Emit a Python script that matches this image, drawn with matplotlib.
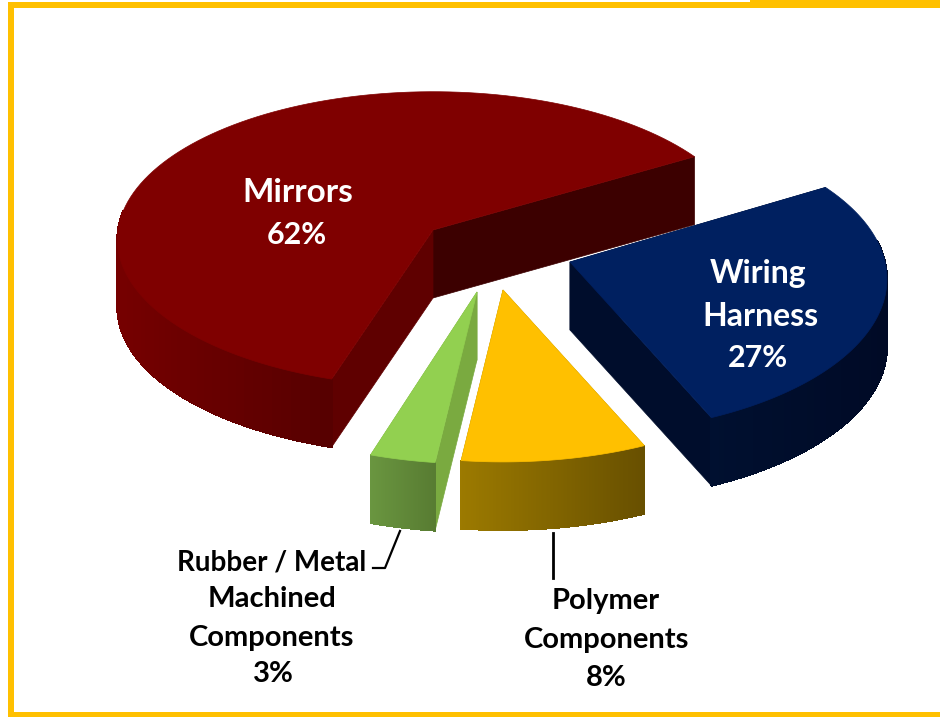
import numpy as np
import matplotlib
matplotlib.use("Agg")
import matplotlib.pyplot as plt
from matplotlib.colors import to_rgb
from matplotlib.patches import Rectangle

plt.rcParams['font.family'] = ['Lato', 'DejaVu Sans']

# slices in pie order, counter clockwise, shares as measured off the slice angles
names = ["Mirrors", "Rubber / Metal Machined Components", "Polymer Components", "Wiring Harness"]
shares = [61.5, 3.0, 8.5, 27]
top_colors = ["#7f0000", "#92d050", "#ffc000", "#002060"]
side_left = ["#760000", "#6a9640", "#9c7a00", "#001030"]
side_right = ["#560000", "#587c32", "#685000", "#000a26"]
cut_start = ["#3c0000", "#7aaa40", "#a08000", "#000d2c"]
cut_end = ["#5f0000", "#7aaa40", "#a08000", "#000d2c"]

# exploded slice tips and projection, pixels
apex_x = [433, 477, 503, 570]
apex_y = [230, 292, 290, 262]
b_axis = [147, 153, 153, 153]
persp = [0.063, 0.11, 0.11, 0.11]
a = 315
depth = 68
start = 31


def rim(apex, t, b, k):
    t = np.radians(t)
    w = 1 + k * np.sin(t)
    return apex[0] + a * np.cos(t) / w, apex[1] - b * np.sin(t) / w


fig = plt.figure(figsize=(9.4, 7.19), dpi=100)
ax = fig.add_axes([0, 0, 1, 1])
ax.set_xlim(0, 940)
ax.set_ylim(719, 0)
ax.axis("off")

# frame
gold = "#ffc000"
ax.add_patch(Rectangle((8, 2), 932, 6, color=gold, lw=0))
ax.add_patch(Rectangle((750, 0), 190, 3, color=gold, lw=0))
ax.add_patch(Rectangle((8, 2), 6, 715, color=gold, lw=0))
ax.add_patch(Rectangle((8, 712), 932, 5, color=gold, lw=0))

angle = start
for i in range(len(shares)):
    sweep = shares[i] * 3.6
    apex = (apex_x[i], apex_y[i])
    ts = np.linspace(angle, angle + sweep, 120)
    xs, ys = rim(apex, ts, b_axis[i], persp[i])

    # cut faces first
    ax.fill([apex[0], xs[0], xs[0], apex[0]],
            [apex[1], ys[0], ys[0] + depth, apex[1] + depth],
            color=cut_start[i], lw=0.5, zorder=2)
    ax.fill([apex[0], xs[-1], xs[-1], apex[0]],
            [apex[1], ys[-1], ys[-1] + depth, apex[1] + depth],
            color=cut_end[i], lw=0.5, zorder=2)

    # outer wall, only the part facing the viewer, shaded left to right
    front = np.sin(np.radians(ts)) < 0.15
    x0, x1 = xs[front].min(), xs[front].max()
    c0, c1 = np.array(to_rgb(side_left[i])), np.array(to_rgb(side_right[i]))
    for j in range(len(ts) - 1):
        if not (front[j] and front[j + 1]):
            continue
        f = ((xs[j] + xs[j + 1]) / 2 - x0) / max(x1 - x0, 1)
        col = c0 + (c1 - c0) * np.clip(f, 0, 1)
        ax.fill([xs[j], xs[j + 1], xs[j + 1], xs[j]],
                [ys[j], ys[j + 1], ys[j + 1] + depth, ys[j] + depth],
                color=col, lw=0.8, antialiased=False, zorder=3)

    # top face
    ax.fill(np.r_[apex[0], xs], np.r_[apex[1], ys], color=top_colors[i], lw=0.5, zorder=4)
    angle += sweep

# leader lines
ax.plot([553, 553], [533, 578], color="black", lw=2, zorder=5)
ax.plot([400, 385, 373], [531, 568, 568], color="black", lw=1.6, zorder=5)

# labels
label_lines = [["Mirrors", "62%"], ["Wiring", "Harness", "27%"],
               ["Rubber / Metal", "Machined", "Components", "3%"],
               ["Polymer", "Components", "8%"]]
label_x = [[298, 297], [758, 760, 758], [272, 272, 272, 273], [606, 607, 606]]
label_y = [[192, 235], [274, 316, 358], [563, 599, 638, 674], [601, 640, 678]]
label_size = [[24, 22], [23, 23, 22], [20, 21, 21, 21], [21, 21, 21]]
label_colors = ["white", "white", "black", "black"]
for lines, lx, ly, sizes, col in zip(label_lines, label_x, label_y, label_size, label_colors):
    for s, x, y, size in zip(lines, lx, ly, sizes):
        ax.text(x, y, s, color=col, fontsize=size, fontweight="bold",
                ha="center", va="center", zorder=6)

fig.savefig("out.png", dpi=100)
